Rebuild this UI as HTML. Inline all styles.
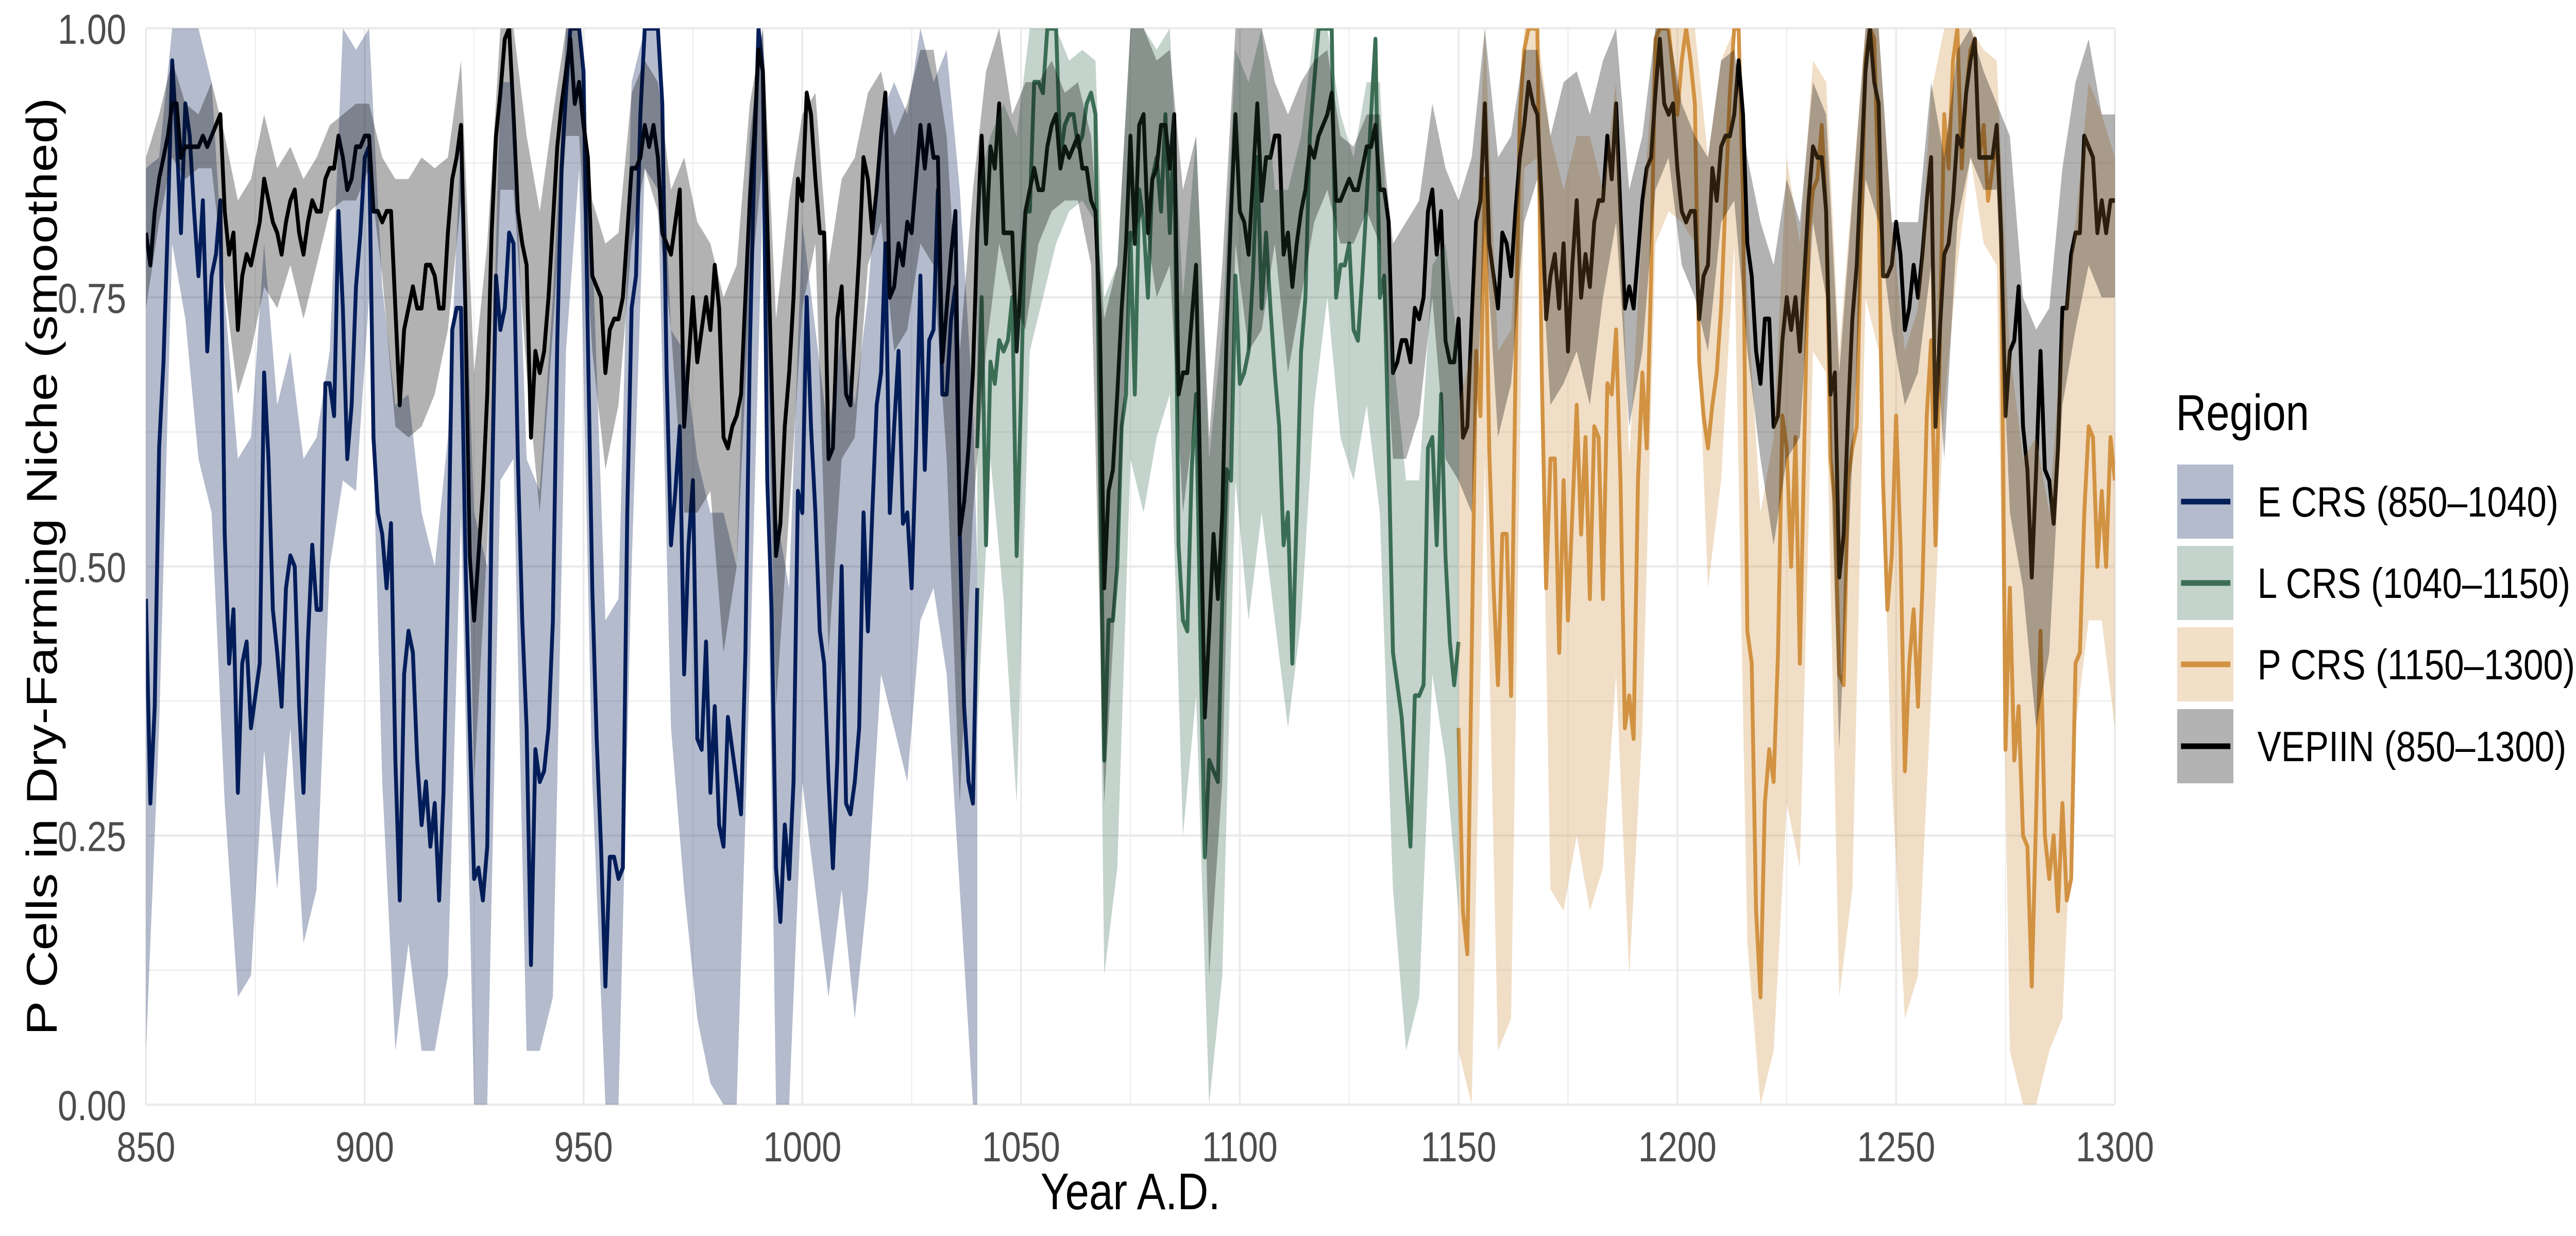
<!DOCTYPE html>
<html><head><meta charset="utf-8"><style>
html,body{margin:0;padding:0;background:#fff;width:100%;height:100%;overflow:hidden;}
svg{display:block;width:100vw;height:100vh;font-family:"Liberation Sans",Arial,sans-serif;}
</style></head><body>
<svg id="chart" viewBox="0 0 6000 2400" preserveAspectRatio="none" xmlns="http://www.w3.org/2000/svg">
<defs><clipPath id="panelClip"><rect x="340" y="55" width="4586" height="2090"/></clipPath></defs>
<rect width="6000" height="2400" fill="#fff"/>
<g id="grid"></g>
<g id="plot" clip-path="url(#panelClip)"></g>
<g id="axes"></g>
<text x="2633" y="2348" font-size="100" text-anchor="middle" fill="#000">Year A.D.</text>
<text transform="translate(132,1100) rotate(-90)" font-size="100" text-anchor="middle" fill="#000">P Cells in Dry-Farming Niche (smoothed)</text>
<g>
<text x="5068" y="835" font-size="98" fill="#000">Region</text>
<g><rect x="5071" y="902" width="131" height="144" fill="#b4bbcd"/><line x1="5080" y1="974" x2="5195" y2="974" stroke="#041e5a" stroke-width="11"/><text x="5258" y="1003" font-size="83" fill="#000">E CRS (850–1040)</text></g>
<g><rect x="5071" y="1060" width="131" height="144" fill="#c4d3cc"/><line x1="5080" y1="1132" x2="5195" y2="1132" stroke="#3b6e55" stroke-width="11"/><text x="5258" y="1161" font-size="83" fill="#000">L CRS (1040–1150)</text></g>
<g><rect x="5071" y="1218" width="131" height="144" fill="#f2dfc7"/><line x1="5080" y1="1290" x2="5195" y2="1290" stroke="#d29243" stroke-width="11"/><text x="5258" y="1319" font-size="83" fill="#000">P CRS (1150–1300)</text></g>
<g><rect x="5071" y="1377" width="131" height="144" fill="#b3b3b3"/><line x1="5080" y1="1449" x2="5195" y2="1449" stroke="#000" stroke-width="11"/><text x="5258" y="1478" font-size="83" fill="#000">VEPIIN (850–1300)</text></g>
</g>
</svg>
<script>
const xTicks=[850,900,950,1000,1050,1100,1150,1200,1250,1300];
const yTicks=[0,0.25,0.5,0.75,1];
const yTickLabels=["0.00","0.25","0.50","0.75","1.00"];
const eStart=850;
const eLine=[47,28,37,61,69,82,97,90,81,93,90,83,77,84,70,77,79,84,53,41,46,29,41,43,35,38,41,68,60,46,42,37,48,51,50,37,29,43,52,46,46,67,67,64,83,74,60,65,76,81,88,89,62,55,53,48,54,32,19,40,44,42,32,26,30,24,28,19,29,48,72,74,74,51,35,21,22,19,24,55,77,72,74,81,80,60,45,35,13,33,30,31,35,45,71,87,94,100,100,100,96,71,48,34,24,11,23,23,21,22,55,74,77,92,100,100,100,100,93,68,52,57,63,40,52,58,34,33,43,29,37,26,24,36,33,30,27,42,70,87,100,96,58,46,22,17,26,21,30,57,55,75,63,55,44,41,30,22,32,50,28,27,30,35,55,44,55,65,68,80,55,63,70,54,55,48,61,77,59,71,72,85,66,66,73,76,53,37,30,28,48];
const eRibYears=[850,853,856,859,862,865,868,871,874,877,880,883,886,889,892,895,898,901,904,907,910,913,916,919,922,925,928,931,934,937,940,943,946,949,952,955,958,961,964,967,970,973,976,979,982,985,988,991,994,997,1000,1003,1006,1009,1012,1015,1018,1021,1024,1027,1030,1033,1036,1039,1040];
const eHi=[87,88,100,100,100,95,75,60,62,80,65,70,60,62,70,100,98,100,76,65,66,55,50,62,90,55,50,95,95,60,57,75,100,100,80,45,47,95,100,100,72,70,60,55,55,50,90,100,55,48,82,72,62,72,65,75,92,95,92,100,95,98,85,65,50];
const eLo=[5,35,80,73,60,55,28,10,12,33,20,35,15,20,50,58,57,75,30,5,15,5,5,12,55,0,0,58,60,5,5,10,70,87,30,0,0,50,87,85,35,20,8,2,0,0,40,85,0,0,30,20,10,20,8,20,40,35,30,45,48,40,20,0,0];
const lStart=1040;
const lLine=[61,75,52,69,67,71,70,71,75,51,66,83,83,95,95,94,100,100,100,88,91,92,92,89,90,93,94,92,61,32,45,45,50,63,66,81,66,85,82,75,86,88,83,92,81,91,52,45,44,59,66,43,23,32,31,30,47,59,58,77,67,68,70,77,88,74,81,74,68,63,52,55,41,55,70,75,90,95,100,100,100,100,75,78,78,80,72,71,77,84,92,99,75,77,61,42,39,36,30,24,38,38,39,61,62,52,66,51,43,39,43];
const lRibYears=[1040,1043,1046,1049,1052,1055,1058,1061,1064,1067,1069,1072,1075,1078,1081,1084,1087,1090,1093,1096,1099,1102,1105,1108,1111,1114,1117,1120,1123,1126,1129,1132,1135,1138,1141,1144,1147,1150];
const lHi=[85,90,93,90,100,100,100,97,98,97,75,78,100,100,98,100,75,90,60,72,98,95,100,85,85,90,100,100,92,88,95,95,70,58,58,78,80,70];
const lLo=[35,60,47,28,70,75,80,83,84,82,12,22,60,55,62,66,25,38,0,12,58,45,55,45,35,45,65,75,62,58,65,55,20,5,10,40,32,18];
const pStart=1150;
const pLine=[35,18,14,42,70,64,86,61,48,39,53,53,38,68,92,98,100,100,100,68,48,60,60,42,58,45,55,65,53,62,47,63,62,47,67,66,72,58,35,38,34,58,68,61,77,99,100,100,100,96,92,97,100,97,93,69,64,61,65,68,74,84,94,100,100,84,44,41,18,10,28,33,30,42,64,61,50,62,41,61,81,85,86,91,83,60,56,40,39,58,61,63,81,97,100,99,84,58,46,51,64,52,31,41,46,37,48,64,71,52,71,92,87,97,100,87,94,98,99,88,91,84,87,90,81,33,48,32,37,25,24,11,27,44,25,21,25,18,28,19,21,41,42,55,63,62,50,57,50,62,58];
const pRibYears=[1150,1153,1156,1159,1162,1165,1168,1171,1174,1177,1180,1183,1186,1189,1192,1195,1198,1201,1204,1207,1210,1213,1216,1219,1222,1225,1228,1231,1234,1237,1240,1243,1246,1249,1252,1255,1258,1261,1264,1267,1270,1273,1276,1279,1282,1285,1288,1291,1294,1297,1300];
const pHi=[65,70,100,70,72,100,100,90,85,90,90,85,95,60,82,100,100,100,100,88,97,100,75,55,62,88,80,97,95,70,85,100,100,82,70,74,94,100,100,100,98,97,70,60,62,55,72,82,95,92,88];
const pLo=[5,0,60,5,8,87,88,20,18,25,18,22,40,12,35,80,83,82,80,48,58,80,15,0,5,28,22,70,68,10,20,75,70,30,8,12,38,65,78,88,80,78,5,0,0,5,8,35,45,45,35];
const vStart=850;
const vLine=[81,78,83,86,88,90,93,93,88,89,89,89,89,90,89,90,91,92,83,79,81,72,77,79,78,80,82,86,84,82,81,79,82,84,85,81,79,82,84,83,83,86,87,87,90,88,85,86,89,89,90,90,83,83,82,83,83,74,65,72,74,76,74,74,78,78,77,74,74,81,86,88,91,74,51,45,51,57,66,81,90,94,99,100,92,83,80,78,62,70,68,70,75,82,89,93,96,99,93,95,91,88,77,76,75,68,72,73,73,75,81,87,87,88,91,89,91,88,81,80,79,82,85,63,69,75,69,72,75,72,78,74,62,61,63,64,66,75,84,90,98,96,82,67,51,54,63,68,75,86,84,94,92,86,81,81,60,61,73,76,66,65,72,79,88,86,81,85,90,94,75,76,80,78,82,81,86,91,87,91,88,88,69,74,79,83,53,56,61,68,81,90,80,89,87,93,81,81,81,70,77,83,85,87,85,85,89,91,92,87,89,88,89,90,87,87,84,83,73,48,57,59,66,74,80,90,80,91,92,81,86,87,91,91,87,92,66,68,68,73,78,57,36,44,53,47,55,72,83,92,83,82,79,86,93,84,88,88,90,90,79,81,76,80,83,85,89,88,90,91,92,94,84,84,85,86,85,85,87,89,89,91,85,85,82,68,69,71,71,69,74,73,75,83,85,79,83,71,69,69,73,62,63,73,82,84,93,80,77,74,81,80,77,83,88,91,95,93,92,84,73,77,79,74,80,70,78,84,75,79,76,82,84,84,90,86,93,83,74,76,74,79,84,87,88,94,99,93,92,93,87,83,82,83,83,73,77,78,87,84,89,90,90,92,97,92,80,77,70,67,73,73,63,64,71,75,72,75,70,77,84,89,88,88,83,66,68,49,53,64,73,78,87,96,100,95,93,77,77,78,82,79,72,74,78,75,79,84,88,63,72,79,80,84,90,89,94,97,99,88,88,88,88,91,81,64,70,71,76,63,59,49,59,70,59,58,54,61,74,74,79,81,81,90,89,88,81,84,81,84,84];
const vRibYears=[850,853,856,859,862,865,868,871,874,877,880,883,886,889,892,895,898,901,904,907,910,913,916,919,922,925,928,931,934,937,940,943,946,949,952,955,958,961,964,967,970,973,976,979,982,985,988,991,994,997,1000,1003,1006,1009,1012,1015,1018,1021,1024,1027,1030,1033,1036,1039,1042,1045,1048,1051,1054,1057,1060,1063,1066,1069,1072,1075,1078,1081,1084,1087,1090,1093,1096,1099,1102,1105,1108,1111,1114,1117,1120,1123,1126,1129,1132,1135,1138,1141,1144,1147,1150,1153,1156,1159,1162,1165,1168,1171,1174,1177,1180,1183,1186,1189,1192,1195,1198,1201,1204,1207,1210,1213,1216,1219,1222,1225,1228,1231,1234,1237,1240,1243,1246,1249,1252,1255,1258,1261,1264,1267,1270,1273,1276,1279,1282,1285,1288,1291,1294,1297,1300];
const vHi=[88,92,97,93,92,95,90,84,86,92,87,89,86,88,91,92,93,93,88,86,86,88,87,88,97,68,80,100,100,90,83,92,100,100,84,80,81,94,97,95,85,88,82,80,75,78,93,100,73,84,92,94,78,86,88,94,96,90,93,98,98,90,70,85,96,100,92,95,95,97,94,95,90,73,78,100,100,97,98,85,90,62,78,100,100,100,95,92,95,97,98,90,89,92,92,80,82,84,93,87,84,88,100,88,90,98,98,90,95,96,92,97,100,85,90,100,100,93,90,88,97,98,88,82,78,86,82,95,92,68,84,100,100,82,82,82,95,88,98,100,96,93,90,75,72,74,87,95,99,92,92];
const vLo=[74,82,88,86,87,87,76,66,70,76,74,78,73,78,83,84,84,87,77,63,62,63,66,72,84,30,52,85,85,68,55,72,90,90,70,59,65,80,87,83,72,55,55,57,42,50,75,88,37,55,74,80,42,60,62,78,82,70,72,80,78,60,28,55,70,80,75,72,80,83,84,84,78,28,50,80,83,75,78,55,65,12,30,80,70,72,80,68,75,82,85,80,80,83,80,60,60,64,75,60,58,55,82,62,67,82,86,65,67,70,65,75,82,63,70,85,88,78,75,70,82,84,70,60,52,60,62,82,75,33,60,86,82,72,65,68,78,60,82,88,85,85,55,48,35,42,65,72,78,75,75];

const NS="http://www.w3.org/2000/svg";
const X0=340,X1=4926,Y0=2145,Y1=55;
function xScale(yr){return X0+(yr-850)*(X1-X0)/450;}
function yScale(v){return Y0-v*(Y0-Y1);}
function mk(tag,attrs,parent){const e=document.createElementNS(NS,tag);for(const k in attrs)e.setAttribute(k,attrs[k]);parent.appendChild(e);return e;}
const grid=document.getElementById('grid'),plot=document.getElementById('plot'),axes=document.getElementById('axes');
for(let i=0;i<xTicks.length-1;i++){const xm=xScale((xTicks[i]+xTicks[i+1])/2);
 const g=mk('line',{x1:xm,x2:xm,y1:Y1,y2:Y0,stroke:'#ebebeb','stroke-width':2.3},grid);
 
 }
for(let i=0;i<yTicks.length-1;i++){const ym=yScale((yTicks[i]+yTicks[i+1])/2);
 const g=mk('line',{x1:X0,x2:X1,y1:ym,y2:ym,stroke:'#ebebeb','stroke-width':2.3},grid);
 
 }
xTicks.forEach(t=>{const x=xScale(t);
 const g=mk('line',{x1:x,x2:x,y1:Y1,y2:Y0,stroke:'#ebebeb','stroke-width':4.6},grid);
 
 
 const tx=mk('text',{x:x,y:2255,'font-size':82,'text-anchor':'middle',fill:'#4d4d4d'},axes);tx.textContent=t;
 
 });
yTicks.forEach((t,i)=>{const y=yScale(t);
 const g=mk('line',{x1:X0,x2:X1,y1:y,y2:y,stroke:'#ebebeb','stroke-width':4.6},grid);
 
 
 const tx=mk('text',{x:294,y:y+30,'font-size':82,'text-anchor':'end',fill:'#4d4d4d'},axes);tx.textContent=yTickLabels[i];
 
 });
function linePath(start,vals){return vals.map((v,i)=>(i?'L':'M')+xScale(start+i).toFixed(1)+','+yScale(v/100).toFixed(1)).join('');}
function ribPath(yrs,hi,lo){let d=yrs.map((y,i)=>(i?'L':'M')+xScale(y).toFixed(1)+','+yScale(hi[i]/100).toFixed(1)).join('');
 for(let i=yrs.length-1;i>=0;i--)d+='L'+xScale(yrs[i]).toFixed(1)+','+yScale(lo[i]/100).toFixed(1);return d+'Z';}
const eL=mk('path',{d:linePath(eStart,eLine),fill:'none',stroke:'#041e5a','stroke-width':9,'stroke-linejoin':'round'},plot);


const lL=mk('path',{d:linePath(lStart,lLine),fill:'none',stroke:'#3b6e55','stroke-width':9,'stroke-linejoin':'round'},plot);


const pL=mk('path',{d:linePath(pStart,pLine),fill:'none',stroke:'#d29243','stroke-width':9,'stroke-linejoin':'round'},plot);


const vL=mk('path',{d:linePath(vStart,vLine),fill:'none',stroke:'#000','stroke-width':9,'stroke-linejoin':'round'},plot);


const eR=mk('path',{d:ribPath(eRibYears,eHi,eLo),fill:'#041e5a','fill-opacity':0.3},plot);


const lR=mk('path',{d:ribPath(lRibYears,lHi,lLo),fill:'#3b6e55','fill-opacity':0.3},plot);


const pR=mk('path',{d:ribPath(pRibYears,pHi,pLo),fill:'#d29243','fill-opacity':0.3},plot);


const vR=mk('path',{d:ribPath(vRibYears,vHi,vLo),fill:'#000','fill-opacity':0.3},plot);


</script>
</body></html>
